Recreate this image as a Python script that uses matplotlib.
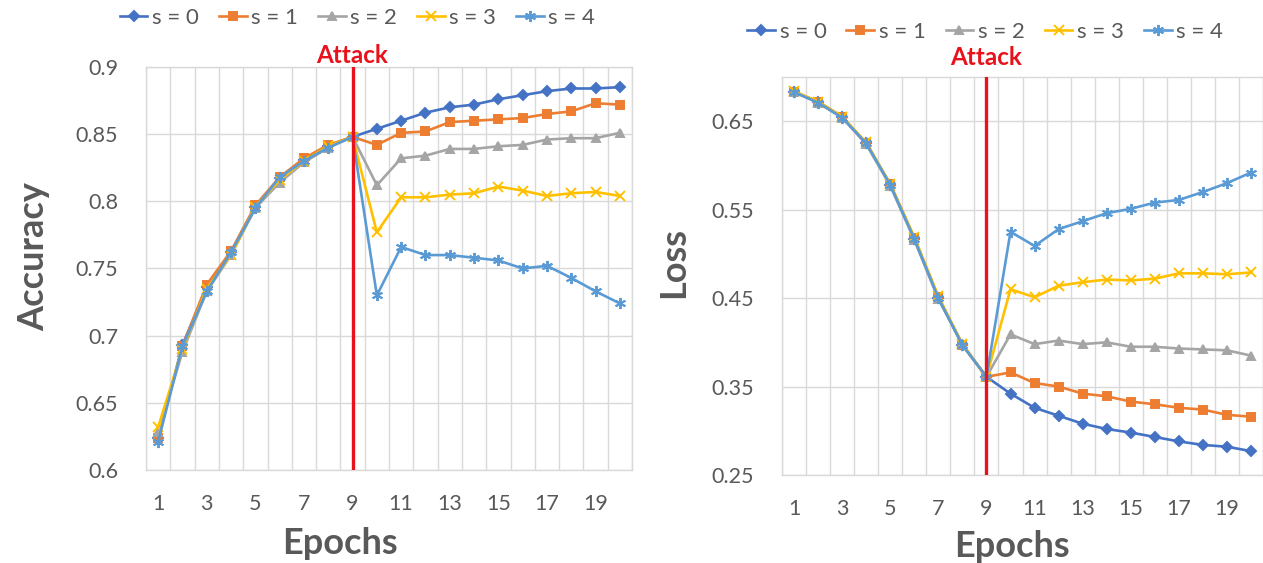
import matplotlib
matplotlib.use("Agg")
import matplotlib.pyplot as plt
import matplotlib.transforms as mtransforms

plt.rcParams['font.family'] = ['Lato', 'DejaVu Sans']

# data
epochs = list(range(1, 21))
attack_epoch = 9
labels = ['s = 0', 's = 1', 's = 2', 's = 3', 's = 4']

acc_s0 = [0.624, 0.693, 0.736, 0.762, 0.796, 0.817, 0.831, 0.841, 0.848,
          0.854, 0.860, 0.866, 0.870, 0.872, 0.876, 0.879, 0.882, 0.884, 0.884, 0.885]
acc_s1 = [0.624, 0.692, 0.738, 0.763, 0.797, 0.818, 0.832, 0.842, 0.848,
          0.842, 0.851, 0.852, 0.859, 0.860, 0.861, 0.862, 0.865, 0.867, 0.873, 0.872]
acc_s2 = [0.628, 0.688, 0.733, 0.760, 0.795, 0.814, 0.829, 0.840, 0.848,
          0.812, 0.832, 0.834, 0.839, 0.839, 0.841, 0.842, 0.846, 0.847, 0.847, 0.851]
acc_s3 = [0.632, 0.690, 0.735, 0.760, 0.796, 0.816, 0.830, 0.841, 0.848,
          0.777, 0.803, 0.803, 0.805, 0.806, 0.811, 0.808, 0.804, 0.806, 0.807, 0.804]
acc_s4 = [0.621, 0.692, 0.733, 0.762, 0.795, 0.818, 0.830, 0.840, 0.848,
          0.730, 0.766, 0.760, 0.760, 0.758, 0.756, 0.750, 0.752, 0.743, 0.733, 0.724]

loss_s0 = [0.683, 0.672, 0.655, 0.625, 0.578, 0.517, 0.450, 0.397, 0.361,
           0.342, 0.326, 0.317, 0.308, 0.302, 0.298, 0.293, 0.288, 0.284, 0.282, 0.277]
loss_s1 = [0.683, 0.672, 0.655, 0.625, 0.579, 0.518, 0.451, 0.397, 0.361,
           0.366, 0.354, 0.350, 0.342, 0.339, 0.333, 0.330, 0.326, 0.324, 0.318, 0.316]
loss_s2 = [0.683, 0.671, 0.654, 0.624, 0.577, 0.516, 0.449, 0.398, 0.361,
           0.409, 0.398, 0.402, 0.398, 0.400, 0.395, 0.395, 0.393, 0.392, 0.391, 0.385]
loss_s3 = [0.684, 0.672, 0.655, 0.626, 0.579, 0.519, 0.452, 0.398, 0.361,
           0.460, 0.451, 0.464, 0.468, 0.471, 0.470, 0.472, 0.478, 0.478, 0.477, 0.479]
loss_s4 = [0.683, 0.671, 0.654, 0.625, 0.578, 0.517, 0.450, 0.397, 0.361,
           0.525, 0.509, 0.528, 0.537, 0.546, 0.551, 0.558, 0.561, 0.570, 0.580, 0.592]

acc_series = [acc_s0, acc_s1, acc_s2, acc_s3, acc_s4]
loss_series = [loss_s0, loss_s1, loss_s2, loss_s3, loss_s4]

colors = ['#4472C4', '#ED7D31', '#A5A5A5', '#FFC000', '#5B9BD5']
markers = ['D', 's', '^', 'x', (6, 2, 0)]
msizes = [5, 5.5, 6, 7, 8]
text_col = '#595959'
grid_col = '#D9D9D9'
red = '#E8121C'

fig = plt.figure(figsize=(12.63, 5.63), dpi=100)
ax1 = fig.add_axes([0.1156, 0.1652, 0.3848, 0.7158])
ax2 = fig.add_axes([0.6192, 0.1563, 0.3808, 0.7069])


def style(ax, ylim, yticks, ytlabels):
    ax.set_xlim(0.5, 20.5)
    ax.set_ylim(*ylim)
    ax.set_xticks(range(1, 21, 2))
    ax.set_xticks([e + 0.5 for e in range(0, 21)], minor=True)
    ax.set_yticks(yticks)
    ax.set_yticklabels(ytlabels)
    ax.grid(True, which='minor', axis='x', color=grid_col, lw=1.0)
    ax.grid(True, which='major', axis='y', color=grid_col, lw=1.0)
    ax.set_axisbelow(True)
    ax.tick_params(which='both', length=0)
    ax.tick_params(axis='x', pad=17, labelsize=15.5, labelcolor=text_col)
    ax.tick_params(axis='y', pad=20, labelsize=15.5, labelcolor=text_col)
    for sp in ax.spines.values():
        sp.set_color(grid_col)
        sp.set_linewidth(1.0)


def draw(ax, series, dy):
    lines = []
    for vals, c, m, ms, lab in zip(series, colors, markers, msizes, labels):
        ln, = ax.plot(epochs, vals, color=c, marker=m, ms=ms, lw=1.9,
                      mew=1.4, label=lab, clip_on=False)
        lines.append(ln)
    ax.axvline(attack_epoch, color=red, lw=2.4, zorder=5)
    ax.annotate('Attack', xy=(attack_epoch, 1.0),
                xycoords=mtransforms.blended_transform_factory(ax.transData, ax.transAxes),
                xytext=(0, dy), textcoords='offset points', ha='center', va='bottom',
                color=red, fontsize=17.5, fontweight='bold')
    return lines


style(ax1, (0.6, 0.9), [0.6, 0.65, 0.7, 0.75, 0.8, 0.85, 0.9],
      ['0.6', '0.65', '0.7', '0.75', '0.8', '0.85', '0.9'])
style(ax2, (0.25, 0.70), [0.25, 0.35, 0.45, 0.55, 0.65],
      ['0.25', '0.35', '0.45', '0.55', '0.65'])

h1 = draw(ax1, acc_series, 0)
h2 = draw(ax2, loss_series, 6)

ax1.set_ylabel('Accuracy', fontsize=26, fontweight='bold', color=text_col)
ax1.yaxis.set_label_coords(-0.198, 0.53)
ax1.set_xlabel('Epochs', fontsize=26, fontweight='bold', color=text_col)
ax1.xaxis.set_label_coords(0.399, -0.142)

ax2.set_ylabel('Loss', fontsize=26, fontweight='bold', color=text_col)
ax2.yaxis.set_label_coords(-0.191, 0.533)
ax2.set_xlabel('Epochs', fontsize=26, fontweight='bold', color=text_col)
ax2.xaxis.set_label_coords(0.479, -0.138)

leg_kw = dict(loc='center', ncol=5, frameon=False, fontsize=16,
              handlelength=1.25, handletextpad=0.2, columnspacing=0.9,
              labelcolor=text_col)
fig.legend(handles=h1, bbox_to_anchor=(0.283, 0.968), **leg_kw)
fig.legend(handles=h2, bbox_to_anchor=(0.780, 0.943), **leg_kw)

fig.savefig('out.png', dpi=100)
